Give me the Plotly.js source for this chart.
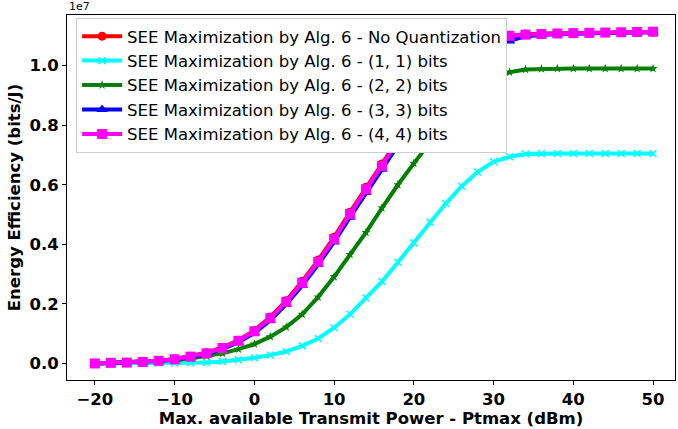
<!DOCTYPE html>
<html>
<head>
<meta charset="utf-8">
<script src="https://cdn.plot.ly/plotly-3.0.1.min.js"></script>
<style>html,body{margin:0;padding:0;background:#fff;}#chart{width:678px;height:429px;}</style>
</head>
<body>
<div id="chart"></div>
<script>
// Max. available transmit power (dBm)
const ptmax = [-20,-18,-16,-14,-12,-10,-8,-6,-4,-2,0,2,4,6,8,10,12,14,16,18,20,22,24,26,28,30,32,34,36,38,40,42,44,46,48,50];

// Energy efficiency values in units of 1e7 bits/J
const noQuant = [0.000,0.002,0.004,0.006,0.009,0.015,0.024,0.036,0.054,0.078,0.111,0.156,0.211,0.276,0.347,0.424,0.508,0.592,0.670,0.752,0.835,0.912,0.980,1.032,1.068,1.090,1.102,1.106,1.108,1.109,1.110,1.110,1.111,1.111,1.112,1.112];
const bits11  = [0.000,0.000,0.0005,0.001,0.001,0.002,0.002,0.003,0.007,0.012,0.019,0.028,0.040,0.059,0.084,0.120,0.165,0.220,0.275,0.340,0.405,0.475,0.537,0.595,0.643,0.677,0.694,0.703,0.705,0.705,0.705,0.705,0.705,0.705,0.705,0.705];
const bits22  = [0.000,0.002,0.003,0.005,0.008,0.012,0.017,0.025,0.034,0.048,0.065,0.090,0.122,0.165,0.223,0.291,0.366,0.440,0.522,0.600,0.672,0.742,0.810,0.870,0.920,0.958,0.978,0.987,0.989,0.990,0.990,0.990,0.990,0.990,0.990,0.990];
const bits33  = [0.000,0.002,0.003,0.005,0.008,0.013,0.021,0.031,0.048,0.071,0.102,0.145,0.199,0.262,0.332,0.408,0.491,0.574,0.652,0.733,0.815,0.893,0.960,1.012,1.050,1.072,1.083,1.098,1.104,1.106,1.108,1.110,1.111,1.111,1.112,1.112];
const bits44  = [0.000,0.002,0.003,0.005,0.009,0.014,0.023,0.034,0.052,0.076,0.108,0.152,0.207,0.271,0.341,0.418,0.502,0.585,0.663,0.745,0.828,0.906,0.975,1.028,1.065,1.088,1.100,1.104,1.106,1.108,1.109,1.110,1.111,1.112,1.113,1.114];

const names = [
  "SEE Maximization by Alg. 6 - No Quantization",
  "SEE Maximization by Alg. 6 - (1, 1) bits",
  "SEE Maximization by Alg. 6 - (2, 2) bits",
  "SEE Maximization by Alg. 6 - (3, 3) bits",
  "SEE Maximization by Alg. 6 - (4, 4) bits"
];
const series = [noQuant, bits11, bits22, bits33, bits44];
const colors = ["#ff0000", "#00ffff", "#008000", "#0000ff", "#ff00ff"];
const symbols = ["circle", "x-thin", "star", "triangle-up", "square"];
const sizes = [9, 7, 7, 10, 10];

const traces = series.map((ys, i) => ({
  x: ptmax,
  y: ys,
  name: names[i],
  type: "scatter",
  mode: "lines+markers",
  line: {color: colors[i], width: 4},
  marker: {
    color: colors[i],
    symbol: symbols[i],
    size: sizes[i],
    line: {color: colors[i], width: symbols[i] === "x-thin" ? 1.5 : 0}
  }
}));

const axFont = {family: "DejaVu Sans", size: 16.5, color: "#000", weight: "bold"};

const layout = {
  width: 678,
  height: 429,
  margin: {l: 67, r: 3, t: 15, b: 49},
  paper_bgcolor: "#fff",
  plot_bgcolor: "#fff",
  showlegend: true,
  font: {family: "DejaVu Sans", color: "#000"},
  xaxis: {
    range: [-23.5, 52.75],
    tickvals: [-20, -10, 0, 10, 20, 30, 40, 50],
    tickfont: axFont,
    ticks: "outside",
    ticklen: 4,
    tickwidth: 1,
    tickcolor: "#000",
    showline: true,
    linecolor: "#000",
    linewidth: 1,
    mirror: true,
    showgrid: false,
    zeroline: false,
    title: {text: "Max. available Transmit Power - Ptmax (dBm)", font: axFont, standoff: 3}
  },
  yaxis: {
    range: [-0.0555, 1.17],
    tickvals: [0, 0.2, 0.4, 0.6, 0.8, 1.0],
    tickformat: ".1f",
    tickfont: axFont,
    ticks: "outside",
    ticklen: 4,
    tickwidth: 1,
    tickcolor: "#000",
    showline: true,
    linecolor: "#000",
    linewidth: 1,
    mirror: true,
    showgrid: false,
    zeroline: false,
    title: {text: "Energy Efficiency (bits/J)", font: axFont, standoff: 4}
  },
  legend: {
    x: 0.015,
    y: 0.992,
    xanchor: "left",
    yanchor: "top",
    bgcolor: "#ffffff",
    bordercolor: "#cccccc",
    borderwidth: 1,
    font: {family: "DejaVu Sans", size: 16.5, color: "#000"},
    itemwidth: 40,
    tracegroupgap: 0
  },
  annotations: [{
    text: "1e7",
    xref: "paper", yref: "paper",
    x: 0, y: 1,
    xanchor: "left", yanchor: "bottom",
    showarrow: false,
    font: {family: "DejaVu Sans", size: 11, color: "#000"},
    yshift: 0
  }]
};

Plotly.newPlot("chart", traces, layout, {displayModeBar: false, staticPlot: true});
</script>
</body>
</html>
